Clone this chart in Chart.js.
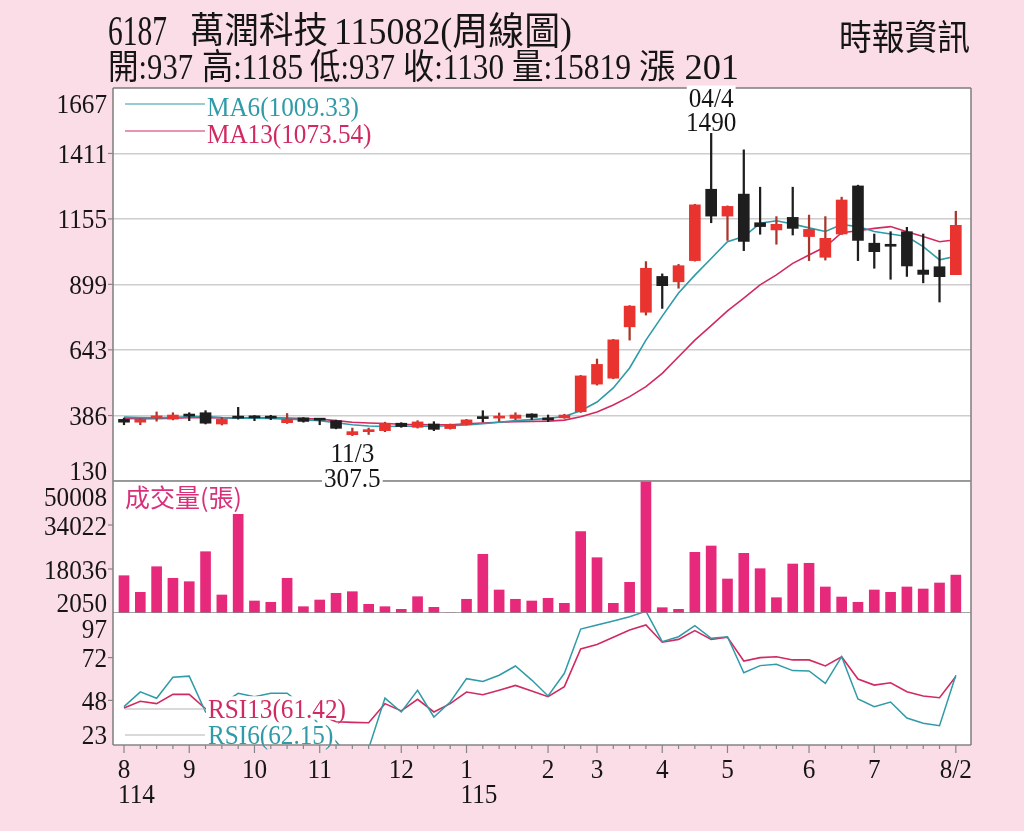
<!DOCTYPE html>
<html>
<head>
<meta charset="utf-8">
<title>6187 萬潤科技 周線圖</title>
<script src="https://cdn.jsdelivr.net/npm/chart.js@4.4.1/dist/chart.umd.min.js"></script>
<style>
  html, body { margin: 0; padding: 0; background: #fbdde8; }
  #wrap { position: relative; width: 1024px; height: 831px; overflow: hidden; background: #fbdde8; }
  #plot { position: absolute; left: 113px; top: 88px; width: 858px; height: 657px; background: #fff; }
  canvas { position: absolute; left: 0; }
  .t { position: absolute; white-space: nowrap; line-height: 1; transform-origin: 0 50%; color: #151515; }
</style>
</head>
<body>
<div id="wrap">
  <div id="plot"></div>
  <canvas id="cRsi" width="1024" height="218" style="top:613px"></canvas>
  <canvas id="cVol" width="1024" height="132" style="top:481px"></canvas>
  <canvas id="cMain" width="1024" height="500" style="top:0px"></canvas>
</div>
<script>
// 週K資料 (114/8 ~ 115/8/2)
const opens  = [371,360,377,372,386,397,353,377,378,377,358,377,369,366,311,323,327,356,340,353,335,351,379,376,375,392,373,377,
                401,509,532,733,790,930,909,992,1271,1166,1252,1140,1112,1161,1086,1005,1096,1284,1060,1050,1105,955,968,937];
const highs  = [376,374,400,397,397,405,379,418,386,387,394,378,374,368,337,337,360,358,366,362,353,371,405,396,397,393,388,391,
                543,607,684,816,988,940,977,1212,1490,1206,1425,1279,1164,1279,1170,1164,1240,1287,1096,1105,1122,1096,1033,1185];
const lows   = [350,350,364,369,366,353,349,372,366,370,355,360,350,334,307.5,312,323,340,337,327,333,349,361,363,370,370,362,375,
                398,505,530,681,779,805,884,990,1140,1071,1031,1095,1056,1092,992,994,1094,992,962,919,930,905,830,937];
const closes = [360,371,378,388,384,356,371,376,377,376,371,363,368,336,323,324,356,343,361,332,351,369,374,377,388,379,369,388,
                541,586,682,814,962,894,972,1210,1166,1204,1067,1125,1134,1118,1114,1079,1229,1071,1027,1048,971,938,929,1130];
const volumes = [15600,9570,18870,14660,13420,24320,8590,37910,6410,5940,14660,4340,6770,9210,9790,5210,4340,3390,7970,4120,
                 2050,7030,23380,10410,7030,6410,7390,5570,31590,22140,5570,13200,50008,3980,3390,24100,26390,14400,23740,18150,
                 7610,19850,20110,11500,7860,5940,10410,9570,11500,10770,12950,15819];
const ma6  = [380,378,377,379,381,382,378,376,376,375,372,370,366,358,350,345,343,344,345,344,346,349,354,360,366,370,375,382,
              405,439,494,572,681,775,865,935,1000,1066,1086,1138,1148,1135,1120,1106,1133,1125,1106,1096,1086,1047,995,1009.33];
const ma13 = [375,374,374,376,378,378,377,377,377,377,376,374,372,366,360,357,355,352,351,350,350,354,357,360,362,363,364,368,
              381,400,427,460,499,551,616,681,738,795,845,897,936,981,1014,1046,1101,1109,1118,1125,1105,1086,1066,1073.54];
const rsi6  = [44.5,52.8,49.2,61,61.6,41.5,46,52,50,52,52,45,34,25,14,21,49.3,41.5,53.7,38.7,47.1,60.2,58.6,62.1,67.3,59.4,50.5,63.2,
               88,90.3,92.5,94.9,98,80.9,83.7,89.9,82.8,83.7,63.5,67.5,68.2,64.7,64.5,57.6,72.5,48.8,44.5,47.1,38.1,35.2,33.8,62.15];
const rsi13 = [43.7,47.5,46.2,51.4,51.4,43.3,44,46,47,46,45,43,40,36,35.7,35.5,46.2,42.1,48.6,41.5,46.2,52.7,51.2,53.7,56.4,53.3,50.1,55.7,
               76.8,79.4,83.4,87.5,90.3,80.6,82.2,87.1,82.2,83.4,70.1,72,72.5,70.7,70.7,67.3,72.5,60,56.6,57.9,52.9,50.5,49.5,61.42];

const mainTicks = [130, 386, 643, 899, 1155, 1411, 1667];
const volTicks = [2050, 18036, 34022, 50008];
const rsiTicks = [23, 48, 72, 97];
const monthIdx = [0, 4, 8, 12, 17, 21, 26, 29, 33, 37, 42, 46, 51];
const monthLabels = ['8', '9', '10', '11', '12', '1', '2', '3', '4', '5', '6', '7', '8/2'];
const yearIdx = [0, 21];
const yearLabels = ['114', '115'];
const hiDate = '04/4';
const loDate = '11/3';

const UP = '#e8332e', DOWN = '#1e1e1e', UP_WICK = '#a8362a';
const TEAL = '#2f9aa8', CRIMSON = '#d12a60', VOL = '#e6297b';
const FONT = "'Liberation Serif', 'DejaVu Serif', serif";
const CJK = "'Noto Sans CJK TC', 'Noto Sans CJK SC', sans-serif";
const FRAME = '#858585';
const X_MIN = -0.674, X_MAX = 51.93;

Chart.defaults.font.family = FONT;

// ---- header texts ----
const wrap = document.getElementById('wrap');
function put(s, x, y, w, size) {
  const e = document.createElement('span');
  e.className = 't';
  e.textContent = s;
  e.style.fontFamily = "'Liberation Serif', 'Noto Sans CJK TC', serif";
  e.style.fontSize = size + 'px';
  e.style.left = x + 'px';
  e.style.top = (y - size / 2) + 'px';
  wrap.appendChild(e);
  e.style.transform = 'scaleX(' + (w / e.getBoundingClientRect().width) + ')';
}
put('6187', 108, 31, 59, 42);
put('萬潤科技', 190, 31, 138, 36);
put('115082(周線圖)', 334, 31, 238, 38);
put('時報資訊', 839, 38, 131, 35);
put('開:937', 108, 67, 85, 35);
put('高:1185', 202, 67, 101, 35);
put('低:937', 310, 67, 85, 35);
put('收:1130', 403, 67, 101, 35);
put('量:15819', 512, 67, 119, 35);
put('漲 201', 639, 67, 100, 35);

// ---- drawing helpers ----
function drawText(ctx, s, x, y, align, color, size, sx, family, bg) {
  ctx.save();
  ctx.font = size + 'px ' + (family || FONT);
  const w = ctx.measureText(s).width * sx;
  const left = align === 'right' ? x - w : align === 'center' ? x - w / 2 : x;
  if (bg) {
    ctx.fillStyle = bg;
    ctx.fillRect(left - 2, y - size * 0.42, w + 4, size * 0.84);
  }
  ctx.fillStyle = color;
  ctx.textAlign = 'left';
  ctx.textBaseline = 'alphabetic';
  ctx.translate(left, y + size * 0.34);
  ctx.scale(sx, 1);
  ctx.fillText(s, 0, 0);
  ctx.restore();
}
function line(ctx, x1, y1, x2, y2, color, lw) {
  ctx.save();
  ctx.strokeStyle = color;
  ctx.lineWidth = lw;
  ctx.beginPath();
  ctx.moveTo(x1, y1);
  ctx.lineTo(x2, y2);
  ctx.stroke();
  ctx.restore();
}
function yLabels(chart, ticks) {
  const ctx = chart.ctx, a = chart.chartArea, s = chart.scales.y;
  ticks.forEach(v => {
    const py = s.getPixelForValue(v);
    const cy = Math.min(Math.max(py, a.top + 15), a.bottom - 11);
    drawText(ctx, String(v), 107, cy, 'right', '#151515', 28, 0.9);
    if (py > a.top + 3 && py < a.bottom - 3) line(ctx, 108, py, a.left, py, FRAME, 1.2);
  });
}
function sides(chart) {
  const ctx = chart.ctx, a = chart.chartArea;
  line(ctx, a.left, a.top, a.left, a.bottom, FRAME, 1.6);
  line(ctx, a.right, a.top, a.right, a.bottom, FRAME, 1.6);
  line(ctx, a.left, a.bottom, a.right, a.bottom, FRAME, 1.6);
}

const idx = closes.map((_, i) => i);
const xScale = { type: 'linear', min: X_MIN, max: X_MAX, offset: false, display: false };
const common = {
  responsive: false, animation: false, events: [],
  plugins: { legend: { display: false }, tooltip: { enabled: false } }
};

// ---- main candlestick panel ----
const candleColors = idx.map(i => closes[i] >= opens[i] ? UP : DOWN);
const wickColors = idx.map(i => closes[i] >= opens[i] ? UP_WICK : DOWN);

const mainDecor = {
  id: 'mainDecor',
  afterDraw(chart) {
    const ctx = chart.ctx, a = chart.chartArea, xs = chart.scales.x, ys = chart.scales.y;
    sides(chart);
    line(ctx, a.left, a.top, a.right, a.top, FRAME, 1.6);
    yLabels(chart, mainTicks);
    // legend
    line(ctx, 125, 104, 205, 104, TEAL, 1.2);
    drawText(ctx, 'MA6(' + ma6[ma6.length - 1].toFixed(2) + ')', 207, 106, 'left', TEAL, 28, 0.9);
    line(ctx, 125, 131, 205, 131, CRIMSON, 1.2);
    drawText(ctx, 'MA13(' + ma13[ma13.length - 1].toFixed(2) + ')', 207, 133, 'left', CRIMSON, 28, 0.9);
    // highest high / lowest low notes
    const hi = highs.indexOf(Math.max(...highs));
    const lo = lows.indexOf(Math.min(...lows));
    const hx = xs.getPixelForValue(hi), hy = ys.getPixelForValue(highs[hi]);
    drawText(ctx, String(highs[hi]), hx, hy - 12, 'center', '#151515', 28, 0.9, null, '#fff');
    drawText(ctx, hiDate, hx, hy - 36, 'center', '#151515', 28, 0.9, null, '#fff');
    const lx = xs.getPixelForValue(lo), ly = ys.getPixelForValue(lows[lo]);
    drawText(ctx, loDate, lx, ly + 17, 'center', '#151515', 28, 0.9, null, '#fff');
    drawText(ctx, String(lows[lo]), lx, ly + 42, 'center', '#151515', 28, 0.9, null, '#fff');
  }
};

new Chart(document.getElementById('cMain'), {
  type: 'bar',
  data: {
    datasets: [
      { type: 'line', data: idx.map(i => ({ x: i, y: ma6[i] })), borderColor: TEAL, borderWidth: 1.6,
        pointRadius: 0, tension: 0, order: 3 },
      { type: 'line', data: idx.map(i => ({ x: i, y: ma13[i] })), borderColor: CRIMSON, borderWidth: 1.6,
        pointRadius: 0, tension: 0, order: 3 },
      { data: idx.map(i => ({ x: i, y: [lows[i], highs[i]] })), backgroundColor: wickColors,
        barThickness: 1.6, grouped: false, order: 2, clip: 0 },
      { data: idx.map(i => ({ x: i, y: [opens[i], closes[i]] })), backgroundColor: candleColors,
        barThickness: 11, minBarLength: 2, grouped: false, order: 1, clip: 0 }
    ]
  },
  options: Object.assign({}, common, {
    layout: { padding: { left: 113, right: 1024 - 971, top: 88, bottom: 19 } },
    scales: {
      x: xScale,
      y: {
        min: 130, max: 1667,
        border: { display: false },
        ticks: { display: false },
        grid: { color: '#cdcdcd', lineWidth: 1.5, drawTicks: false },
        afterBuildTicks: s => { s.ticks = mainTicks.map(v => ({ value: v })); },
        afterFit: s => { s.width = 0; }
      }
    }
  }),
  plugins: [mainDecor]
});

// ---- volume panel ----
const volDecor = {
  id: 'volDecor',
  afterDraw(chart) {
    const a = chart.chartArea;
    sides(chart);
    yLabels(chart, volTicks);
    drawText(chart.ctx, '成交量(張)', 125, a.top + 17, 'left', '#d8307a', 25, 1, CJK);
  }
};

new Chart(document.getElementById('cVol'), {
  type: 'bar',
  data: {
    datasets: [
      { data: idx.map(i => ({ x: i, y: volumes[i] })), backgroundColor: VOL, barThickness: 10, clip: 0 }
    ]
  },
  options: Object.assign({}, common, {
    layout: { padding: { left: 113, right: 1024 - 971, top: 0, bottom: 0 } },
    scales: {
      x: xScale,
      y: { min: 2050, max: 50008, display: false }
    }
  }),
  plugins: [volDecor]
});

// ---- RSI panel + time axis ----
const rsiDecor = {
  id: 'rsiDecor',
  afterDatasetsDraw(chart) {
    const ctx = chart.ctx, a = chart.chartArea;
    line(ctx, 125, a.top + 96, 205, a.top + 96, '#b4b4b4', 1.2);
    drawText(ctx, 'RSI13(' + rsi13[rsi13.length - 1].toFixed(2) + ')', 208, a.top + 95, 'left', CRIMSON, 28, 0.9, null, '#fff');
    line(ctx, 125, a.top + 122, 205, a.top + 122, '#b4b4b4', 1.2);
    drawText(ctx, 'RSI6(' + rsi6[rsi6.length - 1].toFixed(2) + ')', 208, a.top + 121, 'left', TEAL, 28, 0.9, null, '#fff');
  },
  afterDraw(chart) {
    const ctx = chart.ctx, a = chart.chartArea, xs = chart.scales.x;
    sides(chart);
    yLabels(chart, rsiTicks);
    idx.forEach(i => {
      const px = xs.getPixelForValue(i);
      line(ctx, px, a.bottom, px, a.bottom + (monthIdx.includes(i) ? 8 : 4), FRAME, 1.2);
    });
    monthIdx.forEach((m, k) => {
      drawText(ctx, monthLabels[k], xs.getPixelForValue(m), a.bottom + 23, 'center', '#151515', 28, 0.9);
    });
    yearIdx.forEach((m, k) => {
      drawText(ctx, yearLabels[k], xs.getPixelForValue(m) - 6, a.bottom + 48, 'left', '#151515', 28, 0.9);
    });
  }
};

new Chart(document.getElementById('cRsi'), {
  type: 'line',
  data: {
    datasets: [
      { data: idx.map(i => ({ x: i, y: rsi6[i] })), borderColor: TEAL, borderWidth: 1.5, pointRadius: 0, tension: 0 },
      { data: idx.map(i => ({ x: i, y: rsi13[i] })), borderColor: CRIMSON, borderWidth: 1.6, pointRadius: 0, tension: 0 }
    ]
  },
  options: Object.assign({}, common, {
    layout: { padding: { left: 113, right: 1024 - 971, top: 0, bottom: 86 } },
    scales: {
      x: xScale,
      y: { min: 23, max: 97, display: false }
    }
  }),
  plugins: [rsiDecor]
});
</script>
</body>
</html>
